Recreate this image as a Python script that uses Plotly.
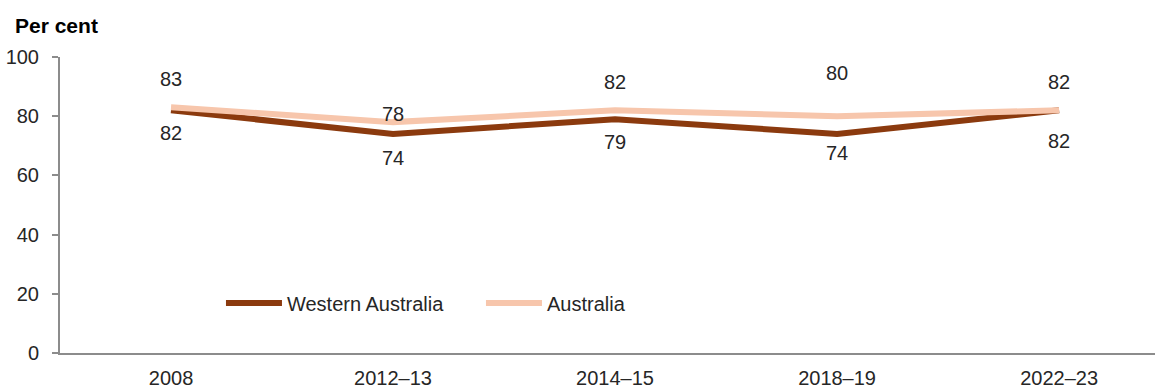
import plotly.graph_objects as go

categories = ["2008", "2012–13", "2014–15", "2018–19", "2022–23"]
wa_values = [82, 74, 79, 74, 82]
aus_values = [83, 78, 82, 80, 82]

# label offsets in px (style only)
wa_label_shift = [-23, -24, -23, -19, -31]
aus_label_shift = [28, 8, 28, 43, 28]

WA_COLOR = "#8B3A0E"
AUS_COLOR = "#F7C6AC"
FONT = "Liberation Sans, Arial, sans-serif"
TXT = "#262626"

fig = go.Figure()
fig.add_trace(go.Scatter(x=categories, y=wa_values, mode="lines", name="Western Australia",
                         line=dict(color=WA_COLOR, width=6)))
fig.add_trace(go.Scatter(x=categories, y=aus_values, mode="lines", name="Australia",
                         line=dict(color=AUS_COLOR, width=6)))

annotations = []
for i, (v, s) in enumerate(zip(wa_values, wa_label_shift)):
    annotations.append(dict(x=i, y=v, xref="x", yref="y", text=str(v), showarrow=False,
                            yshift=s, font=dict(size=20, color=TXT, family=FONT)))
for i, (v, s) in enumerate(zip(aus_values, aus_label_shift)):
    annotations.append(dict(x=i, y=v, xref="x", yref="y", text=str(v), showarrow=False,
                            yshift=s, font=dict(size=20, color=TXT, family=FONT)))
annotations.append(dict(x=-0.043, y=1.108, xref="paper", yref="paper", text="<b>Per cent</b>",
                        showarrow=False, xanchor="left", yanchor="middle",
                        font=dict(size=21, color="#000000", family=FONT)))

fig.update_layout(
    width=1155, height=389,
    margin=dict(l=60, r=0, t=57, b=36),
    paper_bgcolor="white", plot_bgcolor="white",
    font=dict(family=FONT, size=20, color=TXT),
    showlegend=True,
    legend=dict(orientation="h", x=0.147, y=0.169, xanchor="left", yanchor="middle",
                bgcolor="rgba(0,0,0,0)", font=dict(size=20, color=TXT, family=FONT),
                itemwidth=56, tracegroupgap=0, entrywidth=189, entrywidthmode="pixels"),
    annotations=annotations,
    xaxis=dict(type="category", range=[-0.5, 4.432], showgrid=False, showline=True,
               linecolor="#8C8C8C", linewidth=2, ticks="", zeroline=False,
               ticklabelstandoff=6, automargin=False,
               tickfont=dict(size=20, color=TXT, family=FONT)),
    yaxis=dict(range=[0, 100], dtick=20, showgrid=False, showline=True, linecolor="#8C8C8C",
               linewidth=2, ticks="outside", ticklen=6, tickcolor="#8C8C8C", tickwidth=2,
               zeroline=False, ticklabelstandoff=9, automargin=False,
               tickfont=dict(size=20, color=TXT, family=FONT)),
)

fig.write_html("out.html", config={"displayModeBar": False},
               post_script="document.body.style.margin='0px';document.body.style.overflow='hidden';")
